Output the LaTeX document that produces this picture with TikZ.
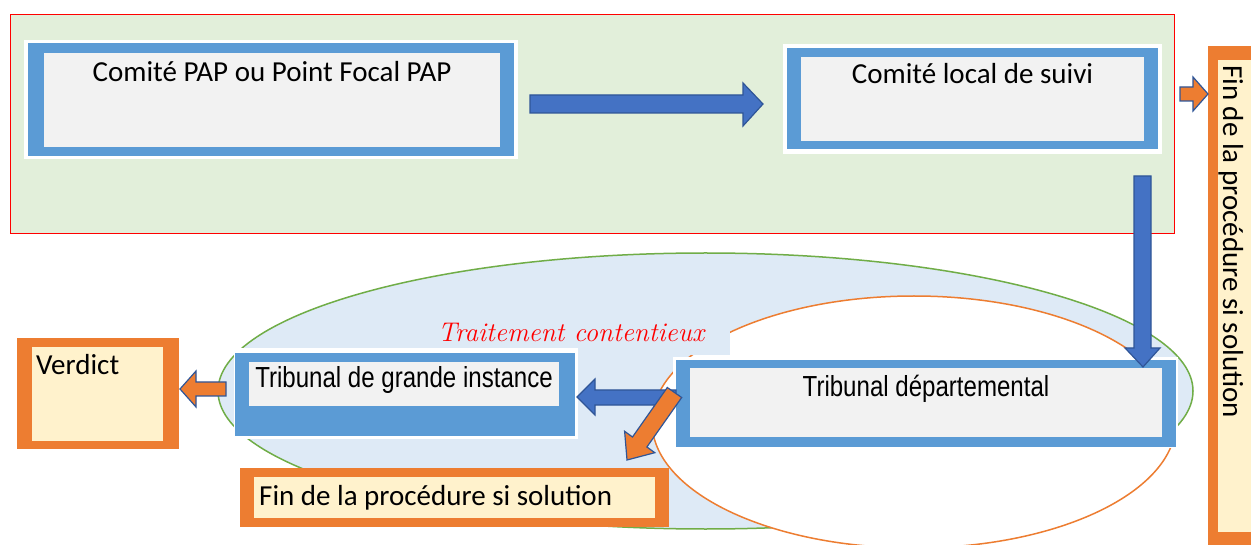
\documentclass[tikz,border=0pt]{standalone}
\usepackage{fontspec}
\usetikzlibrary{calc}
\newfontfamily\calfont{Carlito}
\newfontfamily\narrowfont[FakeStretch=0.83]{Liberation Sans}
\definecolor{zonebg}{HTML}{E2EFDA}
\definecolor{bluebd}{HTML}{5B9BD5}
\definecolor{graybg}{HTML}{F2F2F2}
\definecolor{arrblue}{HTML}{4472C4}
\definecolor{arredge}{HTML}{2F5597}
\definecolor{orng}{HTML}{ED7D31}
\definecolor{cream}{HTML}{FFF2CC}
\definecolor{ellbg}{HTML}{DEEAF6}
\definecolor{ellgreen}{HTML}{70AD47}
\tikzset{
  inbox/.style={fill=graybg, draw=none, anchor=north west, inner sep=0pt, outer sep=0pt},
  creambox/.style={fill=cream, draw=none, anchor=north west, inner sep=0pt, outer sep=0pt},
  caltext/.style={font=\calfont\fontsize{29}{32}\selectfont, inner sep=0pt},
  nartext/.style={font=\narrowfont\fontsize{29}{32}\selectfont, inner sep=0pt},
  barrow/.style={fill=arrblue, draw=arredge, line width=1.2pt, line join=miter},
  oarrow/.style={fill=orng, draw=arredge, line width=1.2pt, line join=miter},
}
\begin{document}
\begin{tikzpicture}[x=1pt,y=-1pt]
\clip (0,0) rectangle (1251,545);
\fill[white] (0,0) rectangle (1251,545);

% green zone
\filldraw[fill=zonebg, draw=red, line width=0.8pt] (10,14) rectangle (1174,233);

% Box 1
\fill[white] (24,40) rectangle (518,159);
\fill[bluebd] (28,43) rectangle (514,156);
\node[inbox, minimum width=456pt, minimum height=94pt] (b1) at (44,53) {};
\node[caltext, anchor=base] (t1) at ($(b1.north)+(0,29)$) {Comité PAP ou Point Focal PAP};

% Box 2
\fill[white] (783,44) rectangle (1162,154);
\fill[bluebd] (787,48) rectangle (1158,149);
\node[inbox, minimum width=343pt, minimum height=84pt] (b2) at (801,57) {};
\node[caltext, anchor=base] (t2) at ($(b2.north)+(0,27)$) {Comité local de suivi};

% arrow box1 -> box2
\draw[barrow] (530,95) -- (743,95) -- (743,83) -- (763,104) -- (743,126) -- (743,113) -- (530,113) -- cycle;

% ellipses
\filldraw[fill=ellbg, draw=ellgreen, line width=1.5pt] (705.5,391) ellipse [x radius=487.5, y radius=138];
\filldraw[fill=white, draw=orng, line width=1.5pt] (914,422) ellipse [x radius=262, y radius=126];

% label
\fill[ellbg] (414,312) rectangle (730,355);
\node[font=\fontsize{27}{30}\selectfont\itshape, text=red, anchor=base, inner sep=0pt] (lab) at (571,342) {Traitement contentieux};

% Tribunal de grande instance
\fill[white] (234,348) rectangle (578,439);
\fill[bluebd] (235,353) rectangle (575,436);
\node[inbox, minimum width=310pt, minimum height=44pt] (tgi) at (249,362) {};
\node[nartext, anchor=base] (t3) at ($(tgi.north)+(0,26)$) {Tribunal de grande instance};

% Tribunal departemental
\fill[white] (673,357) rectangle (1178,448);
\fill[bluebd] (676,360) rectangle (1176,447);
\node[inbox, minimum width=472pt, minimum height=69pt] (td) at (690,368) {};
\node[nartext, anchor=base] (t4) at ($(td.north)+(0,28)$) {Tribunal départemental};

% arrow TD -> TGI
\draw[barrow] (676,390) -- (595,390) -- (595,379) -- (577,397) -- (595,415) -- (595,405) -- (676,405) -- cycle;
% arrow TD -> Fin (diagonal)
\draw[oarrow] (667.3,387.5) -- (632.5,437.0) -- (624.6,431.3) -- (627,460) -- (654.8,452.7) -- (646.9,447.0) -- (681.7,397.5) -- cycle;

% Verdict
\fill[orng] (17,338) rectangle (179,449);
\node[creambox, minimum width=131pt, minimum height=94pt] (ver) at (32,347) {};
\node[caltext, anchor=base west] (t5) at ($(ver.north west)+(4,28)$) {Verdict};
\draw[oarrow] (226,382) -- (196,382) -- (196,371) -- (180,389) -- (196,407) -- (196,396) -- (226,396) -- cycle;

% Fin (bottom)
\fill[orng] (240,468) rectangle (669,527);
\node[creambox, minimum width=401pt, minimum height=41pt] (fin1) at (254,477) {};
\node[caltext, anchor=base west] (t6) at ($(fin1.north west)+(5,28)$) {Fin de la procédure si solution};

% Fin (right, vertical)
\fill[orng] (1208,46) rectangle (1262,547);
\node[creambox, minimum width=44pt, minimum height=472pt] (fin2) at (1218,60) {};
\node[caltext, rotate=-90, anchor=base west] (t7) at (1223,65) {Fin de la procédure si solution};
\draw[oarrow] (1180,87) -- (1193,87) -- (1193,77) -- (1208,94) -- (1193,111) -- (1193,101) -- (1180,101) -- cycle;

% vertical arrow box2 -> TD
\draw[barrow] (1134,176) -- (1134,348) -- (1125,348) -- (1143,367) -- (1160,348) -- (1151,348) -- (1151,176) -- cycle;
\end{tikzpicture}
\end{document}
